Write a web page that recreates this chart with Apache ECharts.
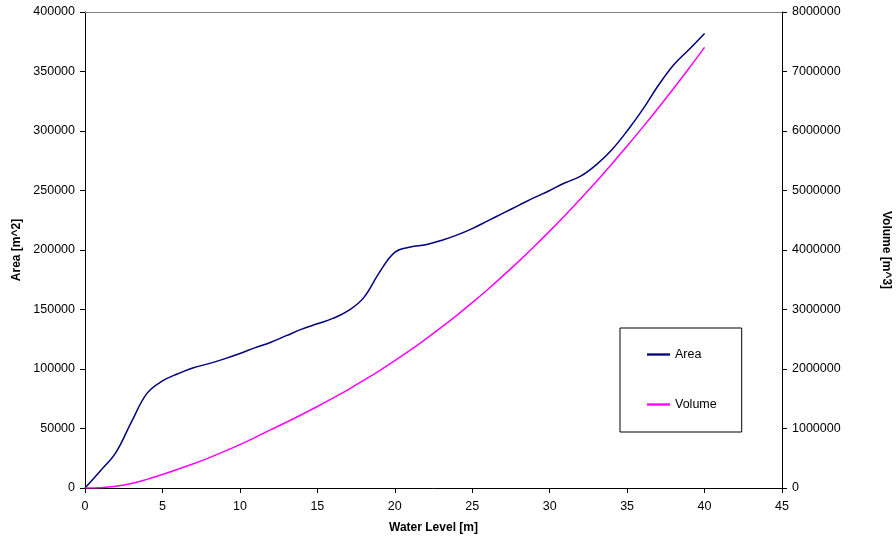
<!DOCTYPE html>
<html>
<head>
<meta charset="utf-8">
<script src="https://cdn.jsdelivr.net/npm/echarts@6/dist/echarts.min.js"></script>
<style>
  html, body { margin: 0; padding: 0; background: #fff; }
  #chart { width: 896px; height: 543px; }
</style>
</head>
<body>
<div id="chart"></div>
<script>
// Water level [m] at which the reservoir is sampled
const levels = [0, 1, 2, 3, 4, 5, 6, 7, 8, 9, 10, 11, 12, 13, 14, 15, 16, 17, 18, 19, 20,
  21, 22, 23, 24, 25, 26, 27, 28, 29, 30, 31, 32, 33, 34, 35, 36, 37, 38, 39, 40];

// Surface area [m^2] at each level
const areaValues = [0, 14500, 30000, 55500, 79500, 90000, 96000, 101000, 104500, 108500, 113000,
  118000, 122500, 128000, 133500, 138000, 142500, 149000, 160000, 181000, 198000,
  202500, 204500, 208000, 212500, 218000, 224500, 231000, 237500, 244000, 250000,
  256500, 262000, 271500, 284000, 300000, 318000, 338000, 355500, 368500, 382000];

// Stored volume [m^3] at each level
const volumeValues = [0, 6000, 30000, 75000, 145000, 228000, 315000, 407000, 507000, 615000, 730000,
  852000, 980000, 1105000, 1235000, 1370000, 1510000, 1655000, 1810000, 1970000, 2140000,
  2317000, 2503000, 2698000, 2902000, 3115000, 3337000, 3569000, 3809000, 4059000, 4317000,
  4585000, 4862000, 5148000, 5443000, 5747000, 6061000, 6383000, 6715000, 7055000, 7405000];

const FONT = '"Liberation Sans", Arial, sans-serif';

const chart = echarts.init(document.getElementById('chart'), null, { renderer: 'canvas' });

const plain = v => String(v);
const tickLabel = { color: '#000', fontFamily: FONT, fontSize: 12.5, formatter: plain };
const nameStyle = { color: '#000', fontFamily: FONT, fontSize: 12, fontWeight: 'bold' };
const lineIcon = 'path://M0,0 L10,0 L10,1 L0,1 Z';

chart.setOption({
  animation: false,
  backgroundColor: '#fff',
  grid: { left: 85, right: 114, top: 12, bottom: 55, containLabel: false, outerBoundsMode: 'none' },
  legend: {
    orient: 'vertical',
    left: 620,
    top: 328,
    padding: [20, 25, 21, 27],
    itemWidth: 23,
    itemHeight: 14,
    itemGap: 37,
    borderColor: '#000',
    borderWidth: 1,
    backgroundColor: '#fff',
    textStyle: { color: '#000', fontFamily: FONT, fontSize: 12.5 },
    data: [
      { name: 'Area', icon: lineIcon },
      { name: 'Volume', icon: lineIcon }
    ]
  },
  xAxis: [
    {
      type: 'value',
      min: 0, max: 45, interval: 5,
      name: 'Water Level [m]',
      nameLocation: 'middle',
      nameGap: 34,
      nameTextStyle: nameStyle,
      axisLine: { show: true, onZero: false, lineStyle: { color: '#000', width: 1 } },
      axisTick: { show: true, length: 5, lineStyle: { color: '#000' } },
      axisLabel: Object.assign({ margin: 12 }, tickLabel),
      splitLine: { show: false }
    },
    {
      // plain grey frame line along the top of the plot
      type: 'value',
      position: 'top',
      min: 0, max: 45,
      axisLine: { show: true, onZero: false, lineStyle: { color: '#808080', width: 1 } },
      axisTick: { show: false },
      axisLabel: { show: false },
      splitLine: { show: false }
    }
  ],
  yAxis: [
    {
      type: 'value',
      position: 'left',
      min: 0, max: 400000, interval: 50000,
      name: 'Area [m^2]',
      nameLocation: 'middle',
      nameGap: 55,
      nameTextStyle: nameStyle,
      axisLine: { show: true, onZero: false, lineStyle: { color: '#000', width: 1 } },
      axisTick: { show: true, length: 5, lineStyle: { color: '#000' } },
      axisLabel: Object.assign({ margin: 10 }, tickLabel),
      splitLine: { show: false }
    },
    {
      type: 'value',
      position: 'right',
      min: 0, max: 8000000, interval: 1000000,
      name: 'Volume [m^3]',
      nameLocation: 'middle',
      nameRotate: -90,
      nameGap: 98,
      nameTextStyle: nameStyle,
      axisLine: { show: true, onZero: false, lineStyle: { color: '#000', width: 1 } },
      axisTick: { show: true, length: 5, lineStyle: { color: '#000' } },
      axisLabel: Object.assign({ margin: 10 }, tickLabel),
      splitLine: { show: false }
    }
  ],
  series: [
    {
      name: 'Area',
      type: 'line',
      xAxisIndex: 0,
      yAxisIndex: 0,
      data: levels.map((h, i) => [h, areaValues[i]]),
      smooth: 0.4,
      symbol: 'none',
      lineStyle: { color: '#000080', width: 1.5 },
      itemStyle: { color: '#000080' }
    },
    {
      name: 'Volume',
      type: 'line',
      xAxisIndex: 0,
      yAxisIndex: 1,
      data: levels.map((h, i) => [h, volumeValues[i]]),
      smooth: 0.4,
      symbol: 'none',
      lineStyle: { color: '#FF00FF', width: 1.5 },
      itemStyle: { color: '#FF00FF' }
    }
  ]
});
</script>
</body>
</html>
